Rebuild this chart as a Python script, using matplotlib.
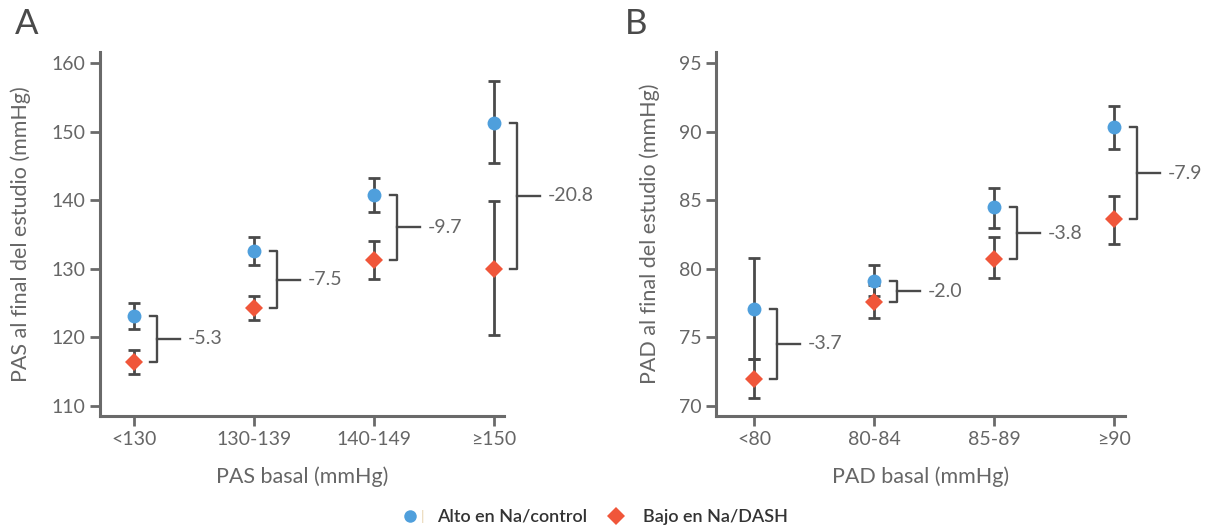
import matplotlib
matplotlib.use('Agg')
import matplotlib.pyplot as plt
from matplotlib.lines import Line2D
import numpy as np

plt.rcParams['font.family'] = ['Lato', 'DejaVu Sans']

# Panel A: PAS
cats_a = ['<130', '130-139', '140-149', '≥150']
pas_alto = [123.1, 132.5, 140.7, 151.2]
pas_alto_lo = [121.2, 130.5, 138.2, 145.4]
pas_alto_hi = [125.0, 134.6, 143.2, 157.4]
pas_bajo = [116.4, 124.2, 131.3, 130.0]
pas_bajo_lo = [114.7, 122.5, 128.5, 120.3]
pas_bajo_hi = [118.2, 126.0, 134.1, 139.9]
pas_diff = ['-5.3', '-7.5', '-9.7', '-20.8']

# Panel B: PAD
cats_b = ['<80', '80-84', '85-89', '≥90']
pad_alto = [77.1, 79.1, 84.5, 90.3]
pad_alto_lo = [73.4, 78.0, 83.0, 88.7]
pad_alto_hi = [80.8, 80.3, 85.9, 91.9]
pad_bajo = [72.0, 77.6, 80.7, 83.6]
pad_bajo_lo = [70.6, 76.4, 79.3, 81.8]
pad_bajo_hi = [73.4, 78.8, 82.3, 85.3]
pad_diff = ['-3.7', '-2.0', '-3.8', '-7.9']

BLUE = '#4f9fdc'
RED = '#f0563a'
DARK = '#4a4a4a'
AXC = '#6a6a6a'
TXT = '#666666'


def panel(ax, cats, alto, alto_lo, alto_hi, bajo, bajo_lo, bajo_hi, diffs,
          yticks, ylim, xlim, ylabel, xlabel, ylab_x):
    x = np.arange(len(cats))
    alto = np.array(alto)
    bajo = np.array(bajo)
    ax.errorbar(x, alto, yerr=[alto - np.array(alto_lo), np.array(alto_hi) - alto],
                fmt='none', ecolor=DARK, elinewidth=2, capsize=4, capthick=2, zorder=2)
    ax.errorbar(x, bajo, yerr=[bajo - np.array(bajo_lo), np.array(bajo_hi) - bajo],
                fmt='none', ecolor=DARK, elinewidth=2, capsize=4, capthick=2, zorder=2)
    ax.plot(x, alto, 'o', color=BLUE, markersize=10, markeredgewidth=0, zorder=3)
    ax.plot(x, bajo, 'D', color=RED, markersize=9.5, markeredgewidth=0, zorder=3)

    # brackets with difference labels
    for xi, top, bot, lab in zip(x, alto, bajo, diffs):
        bx = xi + 0.19
        mid = (top + bot) / 2
        ax.plot([bx - 0.06, bx, bx, bx - 0.06], [top, top, bot, bot],
                color=DARK, lw=1.7, solid_joinstyle='round', zorder=2, clip_on=False)
        ax.plot([bx, bx + 0.19], [mid, mid], color=DARK, lw=1.7, zorder=2, clip_on=False)
        ax.text(bx + 0.26, mid, lab, va='center', ha='left', fontsize=14, color=TXT)

    ax.set_xticks(x)
    ax.set_xticklabels(cats)
    ax.set_yticks(yticks)
    ax.set_xlim(*xlim)
    ax.set_ylim(*ylim)
    ax.set_ylabel(ylabel, fontsize=15.5, color=TXT)
    ax.set_xlabel(xlabel, fontsize=15.5, color=TXT)
    ax.yaxis.set_label_coords(ylab_x, 0.5)
    ax.xaxis.set_label_coords(0.5, -0.168)
    ax.yaxis.label.set_va('center')
    ax.xaxis.label.set_va('center')
    for s in ['top', 'right']:
        ax.spines[s].set_visible(False)
    for s in ['left', 'bottom']:
        ax.spines[s].set_color(AXC)
        ax.spines[s].set_linewidth(2.2)
    ax.tick_params(axis='both', colors=AXC, labelcolor=TXT, labelsize=14,
                   length=7, width=2, direction='out')


fig = plt.figure(figsize=(12.08, 5.28), dpi=100)
ax_a = fig.add_axes([0.0828, 0.2121, 0.3344, 0.6894])
ax_b = fig.add_axes([0.5927, 0.2121, 0.3386, 0.6894])

panel(ax_a, cats_a, pas_alto, pas_alto_lo, pas_alto_hi, pas_bajo, pas_bajo_lo, pas_bajo_hi,
      pas_diff, np.arange(110, 161, 10), (108.5, 161.6), (-0.283, 3.083),
      'PAS al final del estudio (mmHg)', 'PAS basal (mmHg)', -0.196)
panel(ax_b, cats_b, pad_alto, pad_alto_lo, pad_alto_hi, pad_bajo, pad_bajo_lo, pad_bajo_hi,
      pad_diff, np.arange(70, 96, 5), (69.27, 95.8), (-0.317, 3.09),
      'PAD al final del estudio (mmHg)', 'PAD basal (mmHg)', -0.161)

fig.text(0.012, 0.955, 'A', fontsize=25, color='#4a4a4a', va='center', ha='left')
fig.text(0.517, 0.955, 'B', fontsize=25, color='#4a4a4a', va='center', ha='left')

handles = [Line2D([], [], marker='o', color=BLUE, ls='none', markersize=9, markeredgewidth=0),
           Line2D([], [], marker='D', color=RED, ls='none', markersize=9, markeredgewidth=0)]
fig.legend(handles, ['Alto en Na/control', 'Bajo en Na/DASH'], loc='center',
           bbox_to_anchor=(0.492, 0.021), ncol=2, frameon=False, handletextpad=1.0,
           handlelength=1.0, columnspacing=1.1, prop={'size': 13, 'weight': 'semibold'},
           labelcolor='#333333')
fig.text(0.350, 0.021, '|', fontsize=10, color='#e8d4b0', va='center', ha='center')

plt.savefig('out.png', dpi=100)
